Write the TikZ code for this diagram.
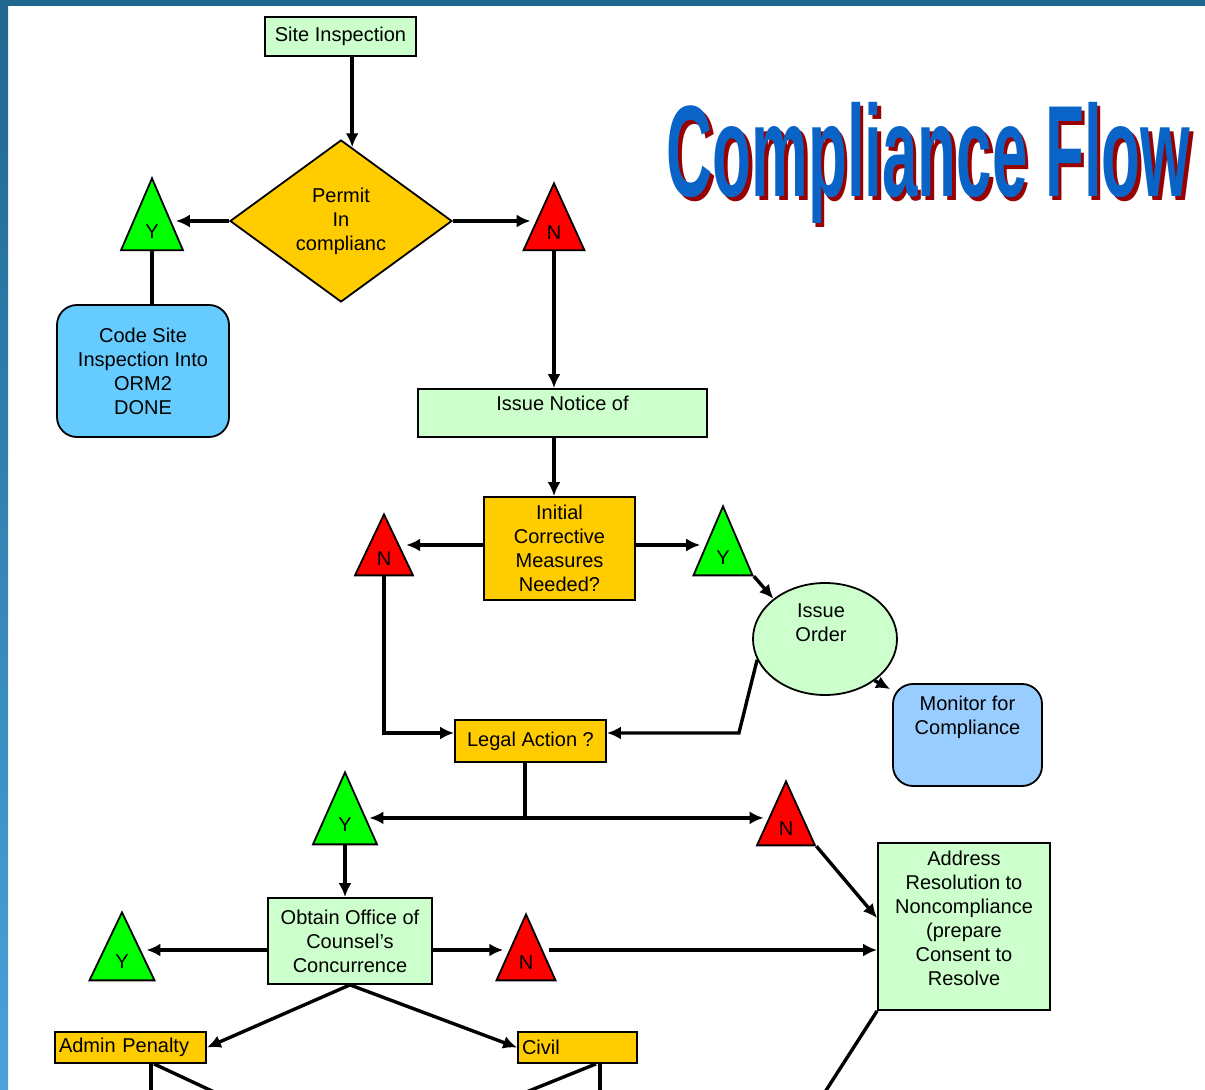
\documentclass[tikz,border=0pt]{standalone}
\usepackage{fontspec}
\setmainfont{Liberation Sans}
\newfontfamily\bannerfont[FakeStretch=0.49]{Liberation Sans}
\usetikzlibrary{arrows,arrows.meta,shapes,calc}
\definecolor{mint}{HTML}{CCFFCC}
\definecolor{amber}{HTML}{FFCC00}
\definecolor{okgreen}{HTML}{00FF00}
\definecolor{nored}{HTML}{FF0000}
\definecolor{sky}{HTML}{66CCFF}
\definecolor{paleblue}{HTML}{99CCFF}
\definecolor{bannerblue}{HTML}{0A64C8}
\definecolor{bannershade}{HTML}{990000}
\definecolor{edgetop}{HTML}{1F6690}
\definecolor{edgebottom}{HTML}{4AA3DA}

\begin{document}
\begin{tikzpicture}[x=0.5pt, y=-0.5pt, font=\fontsize{10}{12}\selectfont]
\tikzstyle{plain}=[rectangle, draw=black, line width=0.9pt, align=center, inner sep=2pt]
\tikzstyle{note}=[plain, fill=mint]
\tikzstyle{query}=[plain, fill=amber]
\tikzstyle{finish}=[plain, rounded corners=10pt]
\tikzstyle{flag}=[isosceles triangle, isosceles triangle stretches, shape border rotate=90, draw=black, line width=0.9pt, inner sep=0pt, anchor=apex]
\tikzstyle{yesflag}=[flag, fill=okgreen]
\tikzstyle{noflag}=[flag, fill=nored]
\tikzstyle{connect}=[-{Latex[length=7pt, width=6.5pt]}, line width=1.7pt]
\tikzstyle{link}=[line width=1.7pt]

  \clip (0,0) rectangle (1205,1090);
  \fill[white] (0,0) rectangle (1205,1090);
  \shade[top color=edgetop, bottom color=edgebottom] (0,0) rectangle (8,1090);
  \fill[edgetop] (0,0) rectangle (1205,6);

  % title
  \node[anchor=base, text=bannershade, font=\bannerfont\bfseries\fontsize{65}{70}\selectfont] (titleShade) at (932,201) {Compliance Flow};
  \node[anchor=base, text=bannerblue, font=\bannerfont\bfseries\fontsize{65}{70}\selectfont] (title) at (928.5,197) {Compliance Flow};

  \node[note, minimum width=75.5pt, minimum height=19.5pt] (site) at (340.5,36.5) {Site Inspection};
  \node[diamond, draw=black, line width=0.9pt, fill=amber, inner sep=0pt, minimum width=111pt, minimum height=81pt, align=center] (permit) at (341,221) {Permit\\In\\complianc};

  \node[yesflag, minimum width=31pt, minimum height=36pt] (yesA) at (152,176) {Y};
  \node[noflag, minimum width=30.5pt, minimum height=33.5pt] (noA) at (554,181) {N};

  \node[finish, fill=sky, minimum width=86pt, minimum height=66pt] (code) at (143,371) {Code Site\\Inspection Into\\ORM2\\DONE};

  \node[note, minimum width=144.5pt, minimum height=24pt] (notice) at (562.5,413) {};
  \node (noticeText) at ([yshift=-7.5pt]notice.north) {Issue Notice of};

  \node[query, minimum width=75.5pt, minimum height=51.5pt] (initial) at (559.5,548.5) {Initial\\Corrective\\Measures\\Needed?};
  \node[noflag, minimum width=29pt, minimum height=30.5pt] (noB) at (384,512) {N};
  \node[yesflag, minimum width=29.5pt, minimum height=34.5pt] (yesB) at (723,504) {Y};

  \node[ellipse, draw=black, line width=0.9pt, fill=mint, minimum width=72pt, minimum height=56pt] (order) at (825,639) {};
  \node[align=center] (orderText) at ([xshift=-2pt, yshift=-20.5pt]order.north) {Issue\\Order};

  \node[finish, fill=paleblue, minimum width=74.5pt, minimum height=51pt] (monitor) at (967.5,735) {};
  \node[align=center] (monitorText) at ([yshift=-17pt]monitor.north) {Monitor for\\Compliance};

  \node[query, minimum width=75.5pt, minimum height=21pt] (legal) at (530.5,741) {Legal Action ?};

  \node[yesflag, minimum width=32pt, minimum height=36pt] (yesC) at (345,770) {Y};
  \node[noflag, minimum width=29pt, minimum height=32pt] (noC) at (786,779) {N};

  \node[note, minimum width=82pt, minimum height=43pt] (counsel) at (350,941) {Obtain Office of\\Counsel’s\\Concurrence};
  \node[yesflag, minimum width=32.5pt, minimum height=34pt] (yesD) at (122,910) {Y};
  \node[noflag, minimum width=29.5pt, minimum height=33pt] (noD) at (526,912) {N};

  \node[note, minimum width=86pt, minimum height=83.5pt] (resolve) at (964,926.5) {};
  \node[align=center] (resolveText) at ([yshift=-38pt]resolve.north) {Address\\Resolution to\\Noncompliance\\(prepare\\Consent to\\Resolve};

  \node[query, minimum height=15.5pt, text width=71.5pt, align=left] (admin) at (130.5,1047.5) {Admin Penalty};
  \node[query, minimum height=15.5pt, text width=55.5pt, align=left] (civil) at (577.5,1047.5) {Civil};

  % ends running off the page
  \coordinate (adminDown) at (151,1120);
  \coordinate (adminSlant) at (274,1120);
  \coordinate (civilDown) at (600,1120);
  \coordinate (civilSlant) at (457,1120);
  \coordinate (resolveDown) at (807,1120);

  \coordinate (permitTop) at ($(permit.north)!0.1!(permit.east)$);
  \draw[connect] (site.south -| permitTop) -- (permitTop);
  \draw[connect] (permit.west) -- (permit.west -| yesA.east);
  \draw[connect] (permit.east) -- (permit.east -| noA.west);
  \draw[link] (yesA.south) -- (yesA.south |- code.north);
  \draw[connect] (noA.south) -- (noA.south |- notice.north);
  \draw[connect] (noA.south |- notice.south) -- (noA.south |- initial.north);

  \draw[connect] ([yshift=1.75pt]initial.west) -- ([yshift=1.75pt]initial.west -| noB.east);
  \draw[connect] ([yshift=1.75pt]initial.east) -- ([yshift=1.75pt]initial.east -| yesB.west);
  \draw[connect] (yesB.right corner) -- (order.north west);
  \draw[connect] (order.-40) -- ([xshift=-1pt,yshift=-3pt]monitor.north west);

  \coordinate (legalIn) at ([yshift=4pt]legal.east);
  \draw[connect] (order.197) -- ([xshift=66pt]legalIn) -- (legalIn);
  \draw[connect] (noB.south) |- ([yshift=4pt]legal.west);

  \coordinate (split) at ([xshift=-2.75pt, yshift=-27.5pt]legal.south);
  \draw[link] (legal.south -| split) -- (split);
  \draw[connect] (split) -- (split -| yesC.east);
  \draw[connect] (split) -- (split -| noC.west);
  \draw[connect] (noC.right corner) -- ($(resolve.north west)!0.45!(resolve.south west)$);
  \draw[connect] (yesC.south) -- (yesC.south |- counsel.north);

  \coordinate (row) at ([yshift=-4.5pt]counsel.west);
  \draw[connect] (row) -- (row -| yesD.east);
  \draw[connect] (row -| counsel.east) -- (row -| noD.west);
  \draw[connect] (row -| noD.east) -- (row -| resolve.west);
  \draw[connect] (counsel.south) -- (admin.east);
  \draw[connect] (counsel.south) -- (civil.west);

  \draw[link] (admin.south -| adminDown) -- (adminDown);
  \draw[link] ([xshift=11.75pt]admin.south) -- (adminSlant);
  \draw[link] (civil.south -| civilDown) -- (civilDown);
  \draw[link] ([xshift=9.25pt]civil.south) -- (civilSlant);
  \draw[link] (resolve.south west) -- (resolveDown);
\end{tikzpicture}
\end{document}
